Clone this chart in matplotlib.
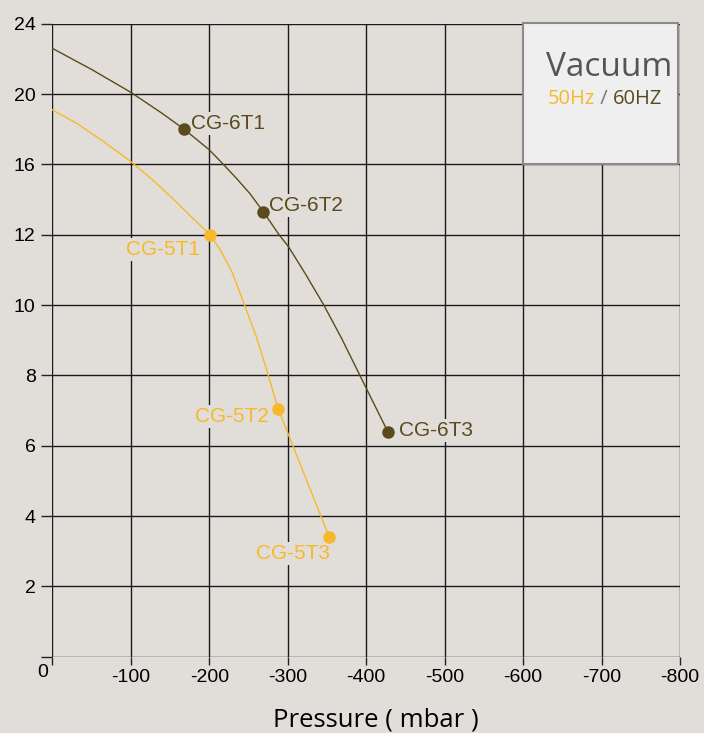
import numpy as np
import matplotlib
matplotlib.use('Agg')
import matplotlib.pyplot as plt
from matplotlib.patches import Rectangle

# curve CG-6 (60Hz) and CG-5 (50Hz): pressure in mbar, flow on the left axis
cg6_press = [0, -50, -100, -140, -168, -200, -218, -235, -252, -269, -289, -301,
             -323, -346, -369, -392, -410, -428]
cg6_flow = [22.6, 21.4, 20.1, 18.9, 18.0, 16.83, 16.0, 15.19, 14.33, 13.3, 12.0,
            11.66, 10.87, 10.0, 9.04, 8.0, 7.19, 6.38]
cg5_press = [0, -32, -50, -64, -100, -128, -153, -178, -201, -214, -229, -244,
             -260, -274, -288, -353]
cg5_flow = [19.1, 18.31, 17.76, 17.34, 16.16, 15.11, 14.08, 12.98, 12.0, 11.57,
            10.94, 10.06, 9.10, 8.10, 7.04, 3.4]

# named operating points
cg6_names = ['CG-6T1', 'CG-6T2', 'CG-6T3']
cg6_pt_press = [-168, -269, -428]
cg6_pt_flow = [18.0, 13.3, 6.38]
cg5_names = ['CG-5T1', 'CG-5T2', 'CG-5T3']
cg5_pt_press = [-201, -288, -353]
cg5_pt_flow = [12.0, 7.04, 3.4]

x_ticks = [0, -100, -200, -300, -400, -500, -600, -700, -800]
y_ticks = [0, 2, 4, 6, 8, 10, 12, 16, 20, 24]

bg = '#E1DEDA'
dark = '#5A4A1E'
yellow = '#F8B82A'


# axis is 2 units per grid line up to 12, then 4 units per grid line
def fwd(v):
    v = np.asarray(v, dtype=float)
    return np.where(v <= 12, v / 2.0, 6 + (v - 12) / 4.0)


def inv(p):
    p = np.asarray(p, dtype=float)
    return np.where(p <= 6, p * 2.0, 12 + (p - 6) * 4.0)


fig = plt.figure(figsize=(7.04, 7.33), dpi=100, facecolor=bg)
W, H = 704.0, 733.0
ax = fig.add_axes([52.3 / W, 1 - 656.7 / H, (680 - 52.3) / W, (656.7 - 23.7) / H])
ax.set_facecolor(bg)
ax.set_yscale('function', functions=(fwd, inv))
ax.set_xlim(0, -800)
ax.set_ylim(0, 24)

ax.set_xticks(x_ticks)
ax.set_xticklabels([''] + [str(t) for t in x_ticks[1:]])
ax.set_yticks(y_ticks)
ax.set_yticklabels([''] + [str(t) for t in y_ticks[1:]])
ax.tick_params(axis='y', length=8, width=1, color='#222222', pad=4,
               labelsize=14, labelcolor='black')
ax.tick_params(axis='x', length=6, width=1, color='#222222', pad=3,
               labelsize=14, labelcolor='black')
for lab in ax.get_xticklabels() + ax.get_yticklabels():
    lab.set_fontfamily('Liberation Sans')
ax.minorticks_off()

ax.grid(True, color='#1a1a1a', linewidth=1.0)
ax.set_axisbelow(True)
for s in ax.spines.values():
    s.set_visible(False)

# corner zero
ax.annotate('0', xy=(0, 0), xycoords='axes fraction', xytext=(-10, -16),
            textcoords='offset pixels', ha='center', va='center',
            fontsize=14, family='Liberation Sans')

ax.plot(cg6_press, cg6_flow, color=dark, lw=1.0, zorder=3)
ax.plot(cg5_press, cg5_flow, color=yellow, lw=1.0, zorder=3)
ax.plot(cg6_pt_press, cg6_pt_flow, 'o', color=dark, ms=8, zorder=4)
ax.plot(cg5_pt_press, cg5_pt_flow, 'o', color=yellow, ms=8, zorder=4)

box = dict(boxstyle='square,pad=0.1', fc=bg, ec='none')
cg6_offsets = [(7, 6), (6, 6), (11, 2)]
for name, x, y, off in zip(cg6_names, cg6_pt_press, cg6_pt_flow, cg6_offsets):
    ax.annotate(name, xy=(x, y), xytext=off, textcoords='offset pixels',
                ha='left', va='center', color=dark, fontsize=15,
                family='Liberation Sans', bbox=box, zorder=2)
cg5_offsets = [(-10, -15), (-9, -7), (1, -16)]
for name, x, y, off in zip(cg5_names, cg5_pt_press, cg5_pt_flow, cg5_offsets):
    ax.annotate(name, xy=(x, y), xytext=off, textcoords='offset pixels',
                ha='right', va='center', color=yellow, fontsize=15,
                family='Liberation Sans', bbox=box, zorder=2)

# legend box in the top right corner
fig.add_artist(Rectangle((523 / W, 1 - 164 / H), (678 - 523) / W, (164 - 23) / H,
                         transform=fig.transFigure, fc='#EFEFEF', ec='#8A8A8A',
                         lw=1.5, zorder=5))
fig.text(609.5 / W, 1 - 68 / H, 'Vacuum', ha='center', va='center',
         fontsize=24, color='#555555', family='Open Sans', zorder=6)
t1 = fig.text(548 / W, 1 - 99 / H, '50Hz', ha='left', va='center',
              fontsize=14.5, color=yellow, family='Open Sans', zorder=6)
fig.canvas.draw()
bb = t1.get_window_extent()
t2 = fig.text(bb.x1 / W, bb.y0 / H, ' / ', ha='left', va='bottom',
              fontsize=14.5, color='#777777', family='Open Sans', zorder=6)
fig.canvas.draw()
bb2 = t2.get_window_extent()
fig.text(bb2.x1 / W, bb.y0 / H, '60HZ', ha='left', va='bottom',
         fontsize=14.5, color=dark, family='Open Sans', zorder=6)

fig.text(375.5 / W, 1 - 720 / H, 'Pressure ( mbar )', ha='center', va='center',
         fontsize=18.5, color='black', family='Open Sans')

fig.savefig('out.png', dpi=100, facecolor=bg)
